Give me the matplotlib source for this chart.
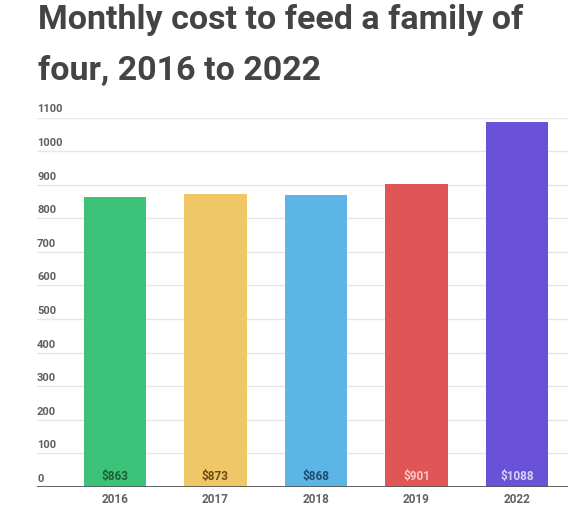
import matplotlib
matplotlib.use("Agg")
import matplotlib.pyplot as plt
import matplotlib.transforms as mtransforms

years = ["2016", "2017", "2018", "2019", "2022"]
costs = [863, 873, 868, 901, 1088]
value_labels = ["$863", "$873", "$868", "$901", "$1088"]
bar_colors = ["#3dc27a", "#f0c766", "#5cb5e6", "#e05656", "#6a52d8"]
label_colors = ["#1d5e36", "#6b4a12", "#1d4c74", "#f7c9c9", "#d9d2f7"]
yticks = [0, 100, 200, 300, 400, 500, 600, 700, 800, 900, 1000, 1100]

plt.rcParams["font.family"] = ["Roboto", "DejaVu Sans"]

W, H = 576, 514
fig = plt.figure(figsize=(W / 100, H / 100), dpi=100)
fig.patch.set_facecolor("white")

x0, x1 = 37, 568
ytop, ybot = 117.5, 487
ax = fig.add_axes([x0 / W, 1 - ybot / H, (x1 - x0) / W, (ybot - ytop) / H])

xs = list(range(len(years)))
ax.bar(xs, costs, width=0.62, color=bar_colors, zorder=3)
ax.set_xlim(-0.776, 4.508)
ax.set_ylim(0, 1100)

for v in yticks[1:]:
    ax.axhline(v, color="#e6e6e6", lw=1.0, zorder=1)
ax.axhline(0, color="#555555", lw=2.0, zorder=4)

for s in ax.spines.values():
    s.set_visible(False)
ax.set_yticks([])
ax.set_xticks(xs)
ax.set_xticklabels(years, fontsize=8.5, color="#626262", fontweight="bold")
ax.tick_params(axis="x", length=0, pad=4.5)

trans = mtransforms.blended_transform_factory(ax.transAxes, ax.transData)
off = mtransforms.offset_copy(trans, fig=fig, x=0, y=2.2, units="points")
for v in yticks:
    ax.text(0.0, v, str(v), transform=off, ha="left", va="bottom",
            fontsize=8, color="#5e5e5e", fontweight="bold")

for x, c, lab, lc in zip(xs, costs, value_labels, label_colors):
    ax.text(x, 0, lab, transform=mtransforms.offset_copy(ax.transData, fig=fig, x=0, y=2.8, units="points"),
            ha="center", va="bottom", fontsize=8.5, color=lc, fontweight="bold", zorder=5)

fig.text(38 / W, 1 - 29 / H, "Monthly cost to feed a family of", fontsize=24.5,
         fontweight="bold", color="#444444", ha="left", va="baseline")
fig.text(38 / W, 1 - 80 / H, "four, 2016 to 2022", fontsize=24.5,
         fontweight="bold", color="#444444", ha="left", va="baseline")

fig.savefig("out.png", dpi=100, facecolor="white")
